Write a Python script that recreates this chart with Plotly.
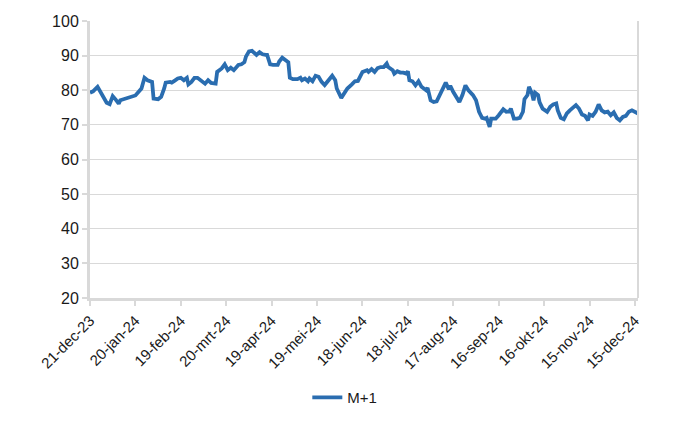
import plotly.graph_objects as go

dates = [
    "2023-12-21", "2023-12-23", "2023-12-26", "2023-12-28", "2023-12-30", "2024-01-01", "2024-01-03",
    "2024-01-05", "2024-01-07", "2024-01-09", "2024-01-10", "2024-01-13", "2024-01-15", "2024-01-17",
    "2024-01-20", "2024-01-22", "2024-01-24", "2024-01-26", "2024-01-28", "2024-01-31", "2024-02-01",
    "2024-02-04", "2024-02-06", "2024-02-08", "2024-02-09", "2024-02-12", "2024-02-13", "2024-02-15",
    "2024-02-17", "2024-02-19", "2024-02-21", "2024-02-23", "2024-02-24", "2024-02-26", "2024-02-28",
    "2024-03-01", "2024-03-03", "2024-03-06", "2024-03-08", "2024-03-10", "2024-03-13", "2024-03-14",
    "2024-03-17", "2024-03-19", "2024-03-21", "2024-03-23", "2024-03-25", "2024-03-28", "2024-03-30",
    "2024-04-01", "2024-04-02", "2024-04-04", "2024-04-06", "2024-04-08", "2024-04-09", "2024-04-11",
    "2024-04-13", "2024-04-15", "2024-04-16", "2024-04-18", "2024-04-20", "2024-04-23", "2024-04-24",
    "2024-04-26", "2024-04-28", "2024-04-30", "2024-05-01", "2024-05-03", "2024-05-06", "2024-05-08",
    "2024-05-09", "2024-05-11", "2024-05-13", "2024-05-14", "2024-05-16", "2024-05-18", "2024-05-20",
    "2024-05-22", "2024-05-24", "2024-05-26", "2024-05-28", "2024-05-29", "2024-05-31", "2024-06-01",
    "2024-06-04", "2024-06-06", "2024-06-08", "2024-06-11", "2024-06-13", "2024-06-15", "2024-06-16",
    "2024-06-18", "2024-06-21", "2024-06-22", "2024-06-24", "2024-06-26", "2024-06-28", "2024-06-30",
    "2024-07-02", "2024-07-04", "2024-07-05", "2024-07-08", "2024-07-09", "2024-07-11", "2024-07-13",
    "2024-07-15", "2024-07-17", "2024-07-18", "2024-07-19", "2024-07-21", "2024-07-23", "2024-07-25",
    "2024-07-27", "2024-07-30", "2024-07-31", "2024-08-02", "2024-08-04", "2024-08-06", "2024-08-08",
    "2024-08-10", "2024-08-12", "2024-08-14", "2024-08-15", "2024-08-17", "2024-08-19", "2024-08-21",
    "2024-08-23", "2024-08-25", "2024-08-27", "2024-08-28", "2024-08-30", "2024-09-01", "2024-09-03",
    "2024-09-05", "2024-09-07", "2024-09-08", "2024-09-10", "2024-09-11", "2024-09-14", "2024-09-16",
    "2024-09-18", "2024-09-19", "2024-09-21", "2024-09-23", "2024-09-24", "2024-09-26", "2024-09-28",
    "2024-09-30", "2024-10-02", "2024-10-03", "2024-10-05", "2024-10-06", "2024-10-08", "2024-10-09",
    "2024-10-10", "2024-10-12", "2024-10-13", "2024-10-15", "2024-10-18", "2024-10-20", "2024-10-22",
    "2024-10-24", "2024-10-25", "2024-10-27", "2024-10-29", "2024-10-31", "2024-11-02", "2024-11-04",
    "2024-11-06", "2024-11-08", "2024-11-10", "2024-11-12", "2024-11-14", "2024-11-15", "2024-11-17",
    "2024-11-19", "2024-11-21", "2024-11-23", "2024-11-25", "2024-11-27", "2024-11-29", "2024-12-01",
    "2024-12-03", "2024-12-05", "2024-12-07", "2024-12-09", "2024-12-11", "2024-12-13", "2024-12-15",
    "2024-12-17",
]

m_plus_1 = [
    79.3, 79.7, 81.0, 79.5, 77.6, 76.4, 76.0,
    78.3, 77.3, 76.1, 77.1, 77.6, 77.8, 78.1,
    78.5, 79.5, 80.5, 83.6, 82.9, 82.4, 77.6,
    77.4, 78.1, 80.5, 82.2, 82.4, 82.2, 82.8,
    83.4, 83.6, 82.9, 83.6, 81.7, 82.4, 83.6,
    83.6, 82.9, 81.9, 82.9, 82.1, 81.9, 85.3,
    86.3, 87.5, 85.8, 86.5, 85.8, 87.3, 87.5,
    88.1, 89.7, 91.2, 91.4, 90.7, 90.2, 91.0,
    90.4, 90.2, 90.2, 87.5, 87.3, 87.3, 88.3,
    89.4, 88.7, 88.1, 83.6, 83.2, 83.2, 83.6,
    82.9, 83.4, 82.6, 83.4, 82.6, 84.2, 83.9,
    82.4, 81.5, 82.6, 83.4, 84.2, 82.9, 80.5,
    77.8, 79.3, 80.5, 81.7, 82.6, 82.7, 83.8,
    85.3, 85.8, 85.3, 86.1, 85.3, 86.4, 86.7,
    86.7, 87.7, 86.7, 85.8, 84.8, 85.5, 85.1,
    85.1, 84.8, 85.5, 82.9, 82.6, 81.4, 82.6,
    81.0, 80.0, 80.7, 77.1, 76.6, 76.8, 78.6,
    80.7, 82.2, 80.3, 81.3, 79.5, 78.1, 76.6,
    78.6, 81.4, 80.0, 79.5, 78.6, 77.1, 73.8,
    72.0, 71.8, 72.0, 69.4, 71.8, 71.8, 72.8,
    73.8, 74.5, 73.8, 73.9, 74.7, 71.8, 71.8,
    72.0, 73.8, 77.4, 78.6, 81.0, 79.0, 77.1,
    79.3, 78.6, 76.5, 74.7, 73.8, 75.2, 75.9,
    76.2, 74.2, 72.0, 71.6, 73.3, 74.2, 74.9,
    75.7, 74.7, 73.0, 72.6, 71.3, 73.0, 72.6,
    73.8, 75.9, 74.2, 73.6, 73.8, 72.8, 73.6,
    72.0, 71.3, 72.3, 72.6, 73.8, 74.2, 73.8,
    73.3,
]

tick_dates = [
    "2023-12-21", "2024-01-20", "2024-02-19", "2024-03-20", "2024-04-19", "2024-05-19", "2024-06-18",
    "2024-07-18", "2024-08-17", "2024-09-16", "2024-10-16", "2024-11-15", "2024-12-15",
]
tick_labels = [
    "21-dec-23", "20-jan-24", "19-feb-24", "20-mrt-24", "19-apr-24", "19-mei-24", "18-jun-24",
    "18-jul-24", "17-aug-24", "16-sep-24", "16-okt-24", "15-nov-24", "15-dec-24",
]
y_ticks = [20, 30, 40, 50, 60, 70, 80, 90, 100]

fig = go.Figure()
fig.add_trace(go.Scatter(
    x=dates, y=m_plus_1, mode="lines", name="M+1",
    line=dict(color="#2a6db0", width=3.8),
))

axis_gray = "#d9d9d9"
fig.update_layout(
    width=700, height=430,
    margin=dict(l=90, r=62, t=21, b=132),
    paper_bgcolor="white", plot_bgcolor="white",
    font=dict(family="Liberation Sans, Arial, sans-serif", color="#1a1a1a"),
    showlegend=True,
    legend=dict(orientation="h", x=0.465, y=-0.36, xanchor="center", yanchor="middle",
                font=dict(size=15, color="#1a1a1a")),
    xaxis=dict(
        type="date", range=["2023-12-21", "2024-12-17"],
        tickvals=tick_dates, ticktext=tick_labels, tickangle=-45,
        tickfont=dict(size=15),
        showgrid=False, showline=True, linecolor=axis_gray, linewidth=3,
        ticks="outside", tickcolor=axis_gray, ticklen=5, tickwidth=2,
    ),
    yaxis=dict(
        range=[20, 100], tickvals=y_ticks, tickfont=dict(size=16),
        showgrid=True, gridcolor=axis_gray, gridwidth=1,
        showline=True, linecolor=axis_gray, linewidth=3,
        ticks="outside", tickcolor=axis_gray, ticklen=5, tickwidth=2,
        zeroline=False,
    ),
)
fig.add_shape(type="line", xref="x domain", yref="y domain", x0=1, x1=1, y0=0, y1=1,
              line=dict(color=axis_gray, width=2))

fig.write_html("out.html")
